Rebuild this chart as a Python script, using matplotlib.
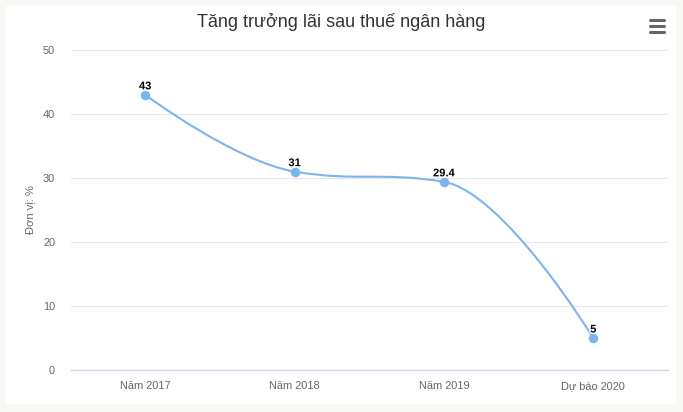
import matplotlib
matplotlib.use("Agg")
import matplotlib.pyplot as plt
import matplotlib.patheffects as pe
from matplotlib.path import Path
from matplotlib.patches import PathPatch, Rectangle
import numpy as np

categories = ["Năm 2017", "Năm 2018", "Năm 2019", "Dự báo 2020"]
values = [43, 31, 29.4, 5]
value_labels = ["43", "31", "29.4", "5"]
yticks = [0, 10, 20, 30, 40, 50]
title = "Tăng trưởng lãi sau thuế ngân hàng"
ylabel = "Đơn vị: %"

plt.rcParams['font.family'] = ['Liberation Sans', 'DejaVu Sans']

fig = plt.figure(figsize=(6.83, 4.12), dpi=100)
fig.patch.set_facecolor("#f9f8f4")
# white panel
fig.patches.append(Rectangle((6/683, 1 - 404/412), 670/683, 398/412,
                             transform=fig.transFigure, facecolor="white",
                             edgecolor="none", zorder=-5))

ax = fig.add_axes([70.5/683, (412-370)/412, 597.5/683, 320/412])
ax.set_zorder(2)
ax.set_facecolor("none")
ax.set_xlim(-0.5, len(categories) - 0.5)
ax.set_ylim(0, 50)

# Highcharts-style spline
xs = np.arange(len(values), dtype=float)
ys = np.array(values, dtype=float)
sm = 1.5
den = sm + 1
lc = [None]*len(xs)
rc = [None]*len(xs)
for i in range(1, len(xs) - 1):
    px, py = xs[i], ys[i]
    lx, ly = xs[i-1], ys[i-1]
    nx, ny = xs[i+1], ys[i+1]
    lcx = (sm*px + lx)/den; lcy = (sm*py + ly)/den
    rcx = (sm*px + nx)/den; rcy = (sm*py + ny)/den
    corr = ((rcy - lcy)*(rcx - px))/(rcx - lcx) + py - rcy
    lcy += corr; rcy += corr
    if lcy > ly and lcy > py:
        lcy = max(ly, py); rcy = 2*py - lcy
    elif lcy < ly and lcy < py:
        lcy = min(ly, py); rcy = 2*py - lcy
    if rcy > ny and rcy > py:
        rcy = max(ny, py); lcy = 2*py - rcy
    elif rcy < ny and rcy < py:
        rcy = min(ny, py); lcy = 2*py - rcy
    lc[i] = (lcx, lcy); rc[i] = (rcx, rcy)

verts = [(xs[0], ys[0])]
codes = [Path.MOVETO]
for i in range(1, len(xs)):
    c1 = rc[i-1] if rc[i-1] is not None else (xs[i-1], ys[i-1])
    c2 = lc[i] if lc[i] is not None else (xs[i], ys[i])
    verts += [c1, c2, (xs[i], ys[i])]
    codes += [Path.CURVE4]*3
ax.add_patch(PathPatch(Path(verts, codes), facecolor="none",
                       edgecolor="#7cb5ec", lw=1.5, zorder=3, capstyle="round"))
ax.plot(xs, ys, linestyle="none", marker="o", markersize=5.8,
        color="#7cb5ec", zorder=4)

for x, y, t in zip(xs, ys, value_labels):
    ax.annotate(t, (x, y), xytext=(0, 2.5), textcoords="offset points",
                ha="center", va="bottom", fontsize=8, fontweight="bold",
                color="black", zorder=5,
                path_effects=[pe.withStroke(linewidth=2, foreground="white")])

ax.set_xticks(xs)
ax.set_xticklabels(categories)
ax.set_yticks(yticks)
ax.tick_params(axis="both", length=0, labelsize=7.9, colors="#666666")
ax.tick_params(axis="x", pad=8)
ax.tick_params(axis="y", pad=11)
ax.grid(axis="y", color="#e6e6e6", lw=0.8)
ax.set_axisbelow(True)
for s in ["top", "right", "left"]:
    ax.spines[s].set_visible(False)
ax.spines["bottom"].set_color("#ccd6eb")
ax.spines["bottom"].set_linewidth(1)
ax.spines["bottom"].set_zorder(2)

fig.text(30/683, 1 - 210/412, ylabel, rotation=90, ha="center", va="center",
         fontsize=8, color="#666666")
fig.text(341/683, 1 - 22/412, title, ha="center", va="center",
         fontsize=13, color="#333333")

# menu icon
for yy in [20, 26, 32]:
    fig.add_artist(plt.Line2D([650/683, 664/683], [1 - yy/412, 1 - yy/412],
                              transform=fig.transFigure, color="#666666",
                              lw=2.2, solid_capstyle="round"))

fig.savefig("out.png", dpi=100, facecolor=fig.get_facecolor())
